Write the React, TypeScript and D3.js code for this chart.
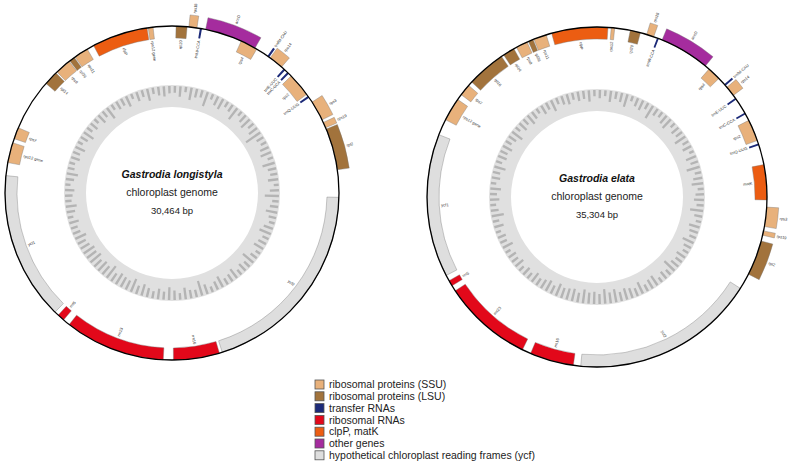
import React from "react";
import * as d3 from "d3";

// ---------- data ----------
type Gene = [string, number, number, "in" | "out", string];

const longistylaLength = 30464;
const elataLength = 35304;

const longistylaGenes: Gene[] = [
  ["rpl20", 118, 440, "in", "lsu"],
  ["rps18", 491, 728, "out", "ssu"],
  ["trnW-CCA", 815, 875, "in", "trna"],
  ["accD", 982, 2522, "out", "other"],
  ["rps4", 2073, 2581, "in", "ssu"],
  ["trnfM-CAU", 2950, 3010, "out", "trna"],
  ["rps14", 3046, 3469, "out", "ssu"],
  ["trnE-UUC", 3550, 3610, "in", "trna"],
  ["trnC-GCA", 3695, 3755, "in", "trna"],
  ["rps2", 3850, 4552, "in", "ssu"],
  ["trnQ-UUG", 4610, 4670, "in", "trna"],
  ["rps3", 4823, 5416, "out", "ssu"],
  ["rps19", 5500, 5670, "out", "ssu"],
  ["rpl2", 5712, 6939, "out", "lsu"],
  ["ycf2", 7743, 13751, "in", "ycf"],
  ["rrn16", 13836, 15190, "in", "rrna"],
  ["rrn23", 15486, 18447, "in", "rrna"],
  ["rrn5", 18659, 18871, "in", "rrna"],
  ["ycf1", 18997, 23355, "in", "ycf"],
  ["rps12 gene", 23736, 24328, "in", "ssu"],
  ["rps7", 24455, 24794, "in", "ssu"],
  ["rpl14", 26317, 26740, "in", "lsu"],
  ["rps8", 26782, 27248, "in", "ssu"],
  ["rpl36", 27273, 27434, "in", "lsu"],
  ["rps11", 27460, 27883, "in", "ssu"],
  ["clpP", 28094, 29736, "in", "clp"],
  ["rps12 gene", 29770, 29913, "in", "ssu"],
];

const elataGenes: Gene[] = [
  ["rps12", 471, 588, "in", "ssu"],
  ["rpl20", 1108, 1451, "in", "lsu"],
  ["rps18", 1667, 1912, "out", "ssu"],
  ["trnW-CCA", 2030, 2090, "in", "trna"],
  ["accD", 2207, 3884, "out", "other"],
  ["rps4", 4040, 4492, "in", "ssu"],
  ["trnfM-CAU", 4756, 4816, "out", "trna"],
  ["rps14", 4884, 5227, "out", "ssu"],
  ["trnE-UUC", 5334, 5394, "in", "trna"],
  ["trnC-GCA", 5913, 5973, "in", "trna"],
  ["rps2", 6198, 6924, "in", "ssu"],
  ["trnQ-UUG", 7031, 7091, "in", "trna"],
  ["matK", 7748, 8924, "in", "clp"],
  ["rps3", 9160, 9807, "out", "ssu"],
  ["rps19", 9954, 10101, "out", "ssu"],
  ["rpl2", 10297, 11474, "out", "lsu"],
  ["ycf2", 12014, 18192, "in", "ycf"],
  ["rrn16", 18437, 19908, "in", "rrna"],
  ["rrn23", 20202, 23193, "in", "rrna"],
  ["rrn5", 23390, 23586, "in", "rrna"],
  ["ycf1", 23782, 28587, "in", "ycf"],
  ["rps12 gene", 29127, 29911, "in", "ssu"],
  ["rps7", 30107, 30500, "in", "ssu"],
  ["rpl16", 30647, 31951, "in", "lsu"],
  ["rpl14", 32039, 32432, "in", "lsu"],
  ["rps8", 32530, 32922, "in", "ssu"],
  ["rpl36", 32971, 33138, "in", "lsu"],
  ["rps11", 33167, 33599, "in", "ssu"],
  ["clpP", 33785, 363, "in", "clp"],
];

// inner ring profile (fraction of ring depth shaded), read around the circle from the top
const longistylaGC = [
  0.35, 0.52, 0.28, 0.61, 0.44, 0.38, 0.72, 0.31, 0.49, 0.56, 0.33, 0.41, 0.67, 0.29, 0.45, 0.58, 0.36, 0.5, 0.83, 0.4,
  0.32, 0.47, 0.55, 0.3, 0.62, 0.43, 0.37, 0.51, 0.27, 0.46, 0.69, 0.34, 0.42, 0.57, 0.39, 0.31, 0.48, 0.6, 0.35, 0.44,
  0.53, 0.29, 0.4, 0.66, 0.38, 0.47, 0.33, 0.55, 0.42, 0.36, 0.59, 0.45, 0.31, 0.5, 0.74, 0.39, 0.43, 0.57, 0.34, 0.48,
  0.62, 0.41, 0.52, 0.37, 0.46, 0.58, 0.44, 0.68, 0.5, 0.55, 0.61, 0.47, 0.72, 0.53, 0.6, 0.49, 0.66, 0.57, 0.63, 0.51,
  0.45, 0.58, 0.4, 0.36, 0.49, 0.3, 0.43, 0.54, 0.33, 0.39, 0.47, 0.28, 0.42, 0.56, 0.35, 0.31, 0.46, 0.38, 0.52, 0.29,
  0.41, 0.57, 0.34, 0.45, 0.3, 0.5, 0.37, 0.63, 0.32, 0.44, 0.39, 0.55, 0.28, 0.48, 0.36, 0.6, 0.33, 0.43, 0.51, 0.38,
];
const elataGC = [
  0.42, 0.31, 0.55, 0.38, 0.47, 0.63, 0.29, 0.44, 0.52, 0.36, 0.7, 0.41, 0.33, 0.49, 0.58, 0.3, 0.45, 0.39, 0.61, 0.35,
  0.48, 0.27, 0.53, 0.4, 0.66, 0.34, 0.46, 0.57, 0.32, 0.43, 0.5, 0.37, 0.64, 0.41, 0.29, 0.54, 0.45, 0.36, 0.59, 0.42,
  0.33, 0.51, 0.4, 0.47, 0.68, 0.35, 0.44, 0.3, 0.56, 0.49, 0.38, 0.62, 0.43, 0.52, 0.58, 0.47, 0.65, 0.54, 0.71, 0.5,
  0.6, 0.55, 0.67, 0.48, 0.62, 0.57, 0.52, 0.64, 0.45, 0.58, 0.49, 0.41, 0.54, 0.36, 0.46, 0.32, 0.5, 0.39, 0.44, 0.3,
  0.55, 0.37, 0.42, 0.28, 0.48, 0.34, 0.6, 0.4, 0.31, 0.47, 0.36, 0.53, 0.29, 0.43, 0.38, 0.57, 0.33, 0.46, 0.4, 0.51,
  0.35, 0.44, 0.62, 0.31, 0.49, 0.37, 0.54, 0.42, 0.3, 0.48, 0.39, 0.58, 0.34, 0.45, 0.52, 0.36, 0.47, 0.41, 0.56, 0.33,
];

const legendLabels = [
  "ribosomal proteins (SSU)",
  "ribosomal proteins (LSU)",
  "transfer RNAs",
  "ribosomal RNAs",
  "clpP, matK",
  "other genes",
  "hypothetical chloroplast reading frames (ycf)",
];
const legendKeys = ["ssu", "lsu", "trna", "rrna", "clp", "other", "ycf"];

// ---------- styles ----------
const COLORS: Record<string, string> = {
  ssu: "#e8b17b",
  lsu: "#a2733c",
  trna: "#1c2a78",
  rrna: "#e2081a",
  clp: "#ec5d12",
  other: "#a52c9e",
  ycf: "#dedede",
};
const FONT = "'Liberation Sans', Arial, Helvetica, sans-serif";

interface MapProps {
  genes: Gene[];
  length: number;
  gc: number[];
  cx: number;
  cy: number;
  r: number;
  title: string;
  size: string;
}

function GenomeMap({ genes, length, gc, cx, cy, r, title, size }: MapProps) {
  const angle = d3.scaleLinear().domain([0, length]).range([0, 2 * Math.PI]);
  const T = 12;
  const TT = 10;
  const ringIn = 86;
  const ringOut = 108;
  const arc = d3.arc<any>();
  const slot = d3.scaleLinear().domain([0, gc.length]).range([0, 2 * Math.PI]);
  const depth = d3.scaleLinear().domain([0, 1]).range([ringOut, ringIn]);
  const barW = slot(0.45);

  return (
    <g transform={`translate(${cx},${cy})`}>
      {/* inner ring */}
      <path
        d={arc({ innerRadius: ringIn, outerRadius: ringOut, startAngle: 0, endAngle: 2 * Math.PI }) as string}
        fill="#e0e0e0"
      />
      {gc.map((v, i) => (
        <path
          key={"gc" + i}
          d={
            arc({
              innerRadius: depth(v),
              outerRadius: ringOut - 1,
              startAngle: slot(i + 0.3),
              endAngle: slot(i + 0.3) + barW,
            }) as string
          }
          fill="#b4b4b4"
        />
      ))}
      {/* genes */}
      {genes.map(([name, s, e, strand, cat], i) => {
        const a0 = angle(s);
        let a1 = angle(e);
        if (e < s) a1 = angle(e + length);
        const th = cat === "trna" ? TT : T;
        const inner = strand === "in" ? r - th : r;
        const outer = strand === "in" ? r : r + th;
        const mid = (a0 + a1) / 2;
        const deg = ((mid * 180) / Math.PI) % 360;
        const right = deg < 180;
        const lr = strand === "in" ? r - th - 2 : r + th + 2;
        const lx = lr * Math.sin(mid);
        const ly = -lr * Math.cos(mid);
        const rot = right ? deg - 90 : deg + 90;
        let anchor: "start" | "end";
        if (strand === "in") anchor = right ? "end" : "start";
        else anchor = right ? "start" : "end";
        return (
          <g key={"g" + i}>
            <path
              d={arc({ innerRadius: inner, outerRadius: outer, startAngle: a0, endAngle: a1 }) as string}
              fill={COLORS[cat]}
              stroke={cat === "trna" ? "none" : "#7a7a7a"}
              strokeWidth={0.4}
            />
            <text
              transform={`translate(${lx},${ly}) rotate(${rot})`}
              textAnchor={anchor}
              dy="0.35em"
              fontSize={4}
              fontFamily={FONT}
              fill="#333"
            >
              {name}
            </text>
          </g>
        );
      })}
      <circle r={r} fill="none" stroke="#000" strokeWidth={1.3} />
      {/* center text */}
      <text y={-15} textAnchor="middle" fontFamily={FONT} fontSize={10.5} fontWeight="bold" fontStyle="italic" fill="#111">
        {title}
      </text>
      <text y={3} textAnchor="middle" fontFamily={FONT} fontSize={10.5} fill="#222">
        chloroplast genome
      </text>
      <text y={21} textAnchor="middle" fontFamily={FONT} fontSize={9.5} fill="#222">
        {size}
      </text>
    </g>
  );
}

export default function App() {
  const lx = 315;
  const ly0 = 380;
  const lstep = 11.8;
  return (
    <svg width={789} height={472} style={{ position: "absolute", left: 0, top: 0, background: "#fff" }}>
      <GenomeMap
        genes={longistylaGenes}
        length={longistylaLength}
        gc={longistylaGC}
        cx={172}
        cy={193}
        r={167}
        title="Gastrodia longistyla"
        size="30,464 bp"
      />
      <GenomeMap
        genes={elataGenes}
        length={elataLength}
        gc={elataGC}
        cx={597}
        cy={197}
        r={170}
        title="Gastrodia elata"
        size="35,304 bp"
      />
      {legendLabels.map((lab, i) => (
        <g key={"l" + i} transform={`translate(${lx},${ly0 + i * lstep})`}>
          <rect x={0} y={0} width={9} height={9} fill={COLORS[legendKeys[i]]} stroke="#555" strokeWidth={0.8} />
          <text x={14} y={4.5} dy="0.36em" fontFamily={FONT} fontSize={10.5} fill="#222">
            {lab}
          </text>
        </g>
      ))}
    </svg>
  );
}
